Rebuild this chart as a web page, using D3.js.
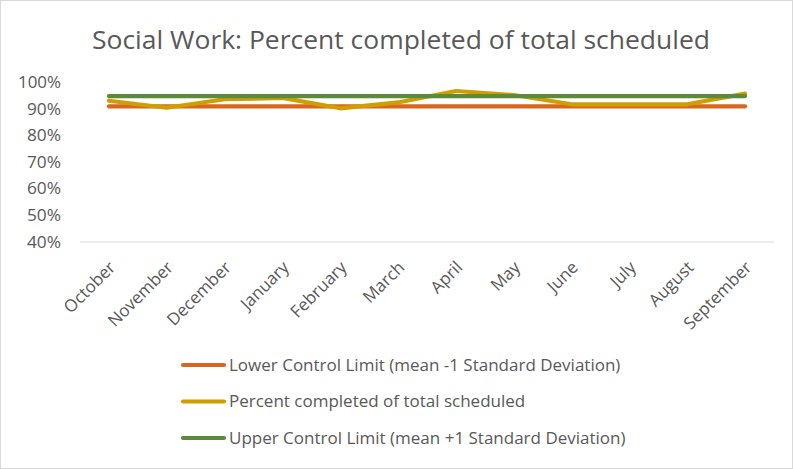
<!DOCTYPE html>
<html><head><meta charset="utf-8">
<script src="https://cdn.jsdelivr.net/npm/d3@7"></script>
<style>body{margin:0;background:#fff}svg{display:block}</style>
</head><body>
<svg id="c" width="793" height="469"></svg>
<script>
const months = ["October","November","December","January","February","March","April","May","June","July","August","September"];
const lowerLimit = [91.05,91.05,91.05,91.05,91.05,91.05,91.05,91.05,91.05,91.05,91.05,91.05];
const percentCompleted = [93.15,90.5,93.7,94.2,90.3,92.5,96.8,95.3,91.8,91.8,91.8,95.8];
const upperLimit = [94.9,94.9,94.9,94.9,94.9,94.9,94.9,94.9,94.9,94.9,94.9,94.9];
const yTicks = [40,50,60,70,80,90,100];
const seriesNames = ["Lower Control Limit (mean -1 Standard Deviation)","Percent completed of total scheduled","Upper Control Limit (mean +1 Standard Deviation)"];
const colors = ["#D8661C","#CF9E00","#5B8A3A"];

const svg = d3.select("#c");
const font = "'Open Sans', sans-serif";
svg.append("rect").attr("x",0.5).attr("y",0.5).attr("width",792).attr("height",468)
  .attr("fill","#fff").attr("stroke","#d9d9d9");

const x = d3.scaleBand().domain(months).range([80,774]);
const y = d3.scaleLinear().domain([40,100]).range([242,82.5]);

svg.append("text").attr("x",401).attr("y",49).attr("text-anchor","middle")
  .attr("font-family",font).attr("font-size",25).attr("fill","#595959")
  .attr("textLength",618).attr("lengthAdjust","spacingAndGlyphs")
  .text("Social Work: Percent completed of total scheduled");

const yAxis = svg.append("g").attr("transform","translate(61,0)")
  .call(d3.axisLeft(y).tickValues(yTicks).tickFormat(d=>d+"%").tickSize(0).tickPadding(0));
yAxis.select(".domain").remove();
yAxis.selectAll("text").attr("font-family",font).attr("font-size",16).attr("fill","#595959")
  .attr("textLength",43).attr("lengthAdjust","spacingAndGlyphs")
  .filter(d=>d<100).attr("textLength",34);

svg.append("line").attr("x1",80).attr("x2",774).attr("y1",y(40)).attr("y2",y(40))
  .attr("stroke","#d9d9d9").attr("stroke-width",1.2);

const xAxis = svg.append("g").attr("transform",`translate(0,${y(40)})`)
  .call(d3.axisBottom(x).tickSize(0).tickPadding(0));
xAxis.select(".domain").remove();
xAxis.selectAll("text").attr("font-family",font).attr("font-size",17).attr("fill","#595959")
  .attr("text-anchor","end").attr("dy",0)
  .attr("transform","translate(7.5,26.5) rotate(-45)");

const line = d3.line().x((d,i)=>x(months[i])+x.bandwidth()/2).y(d=>y(d));
[lowerLimit, percentCompleted, upperLimit].forEach((s,i)=>{
  svg.append("path").datum(s).attr("d",line).attr("fill","none")
    .attr("stroke",colors[i]).attr("stroke-width",4.2).attr("stroke-linecap","round").attr("stroke-linejoin","round");
});

const leg = svg.append("g");
const legY = [365,401.5,438];
seriesNames.forEach((n,i)=>{
  leg.append("line").attr("x1",183).attr("x2",224).attr("y1",legY[i]).attr("y2",legY[i])
    .attr("stroke",colors[i]).attr("stroke-width",4.2).attr("stroke-linecap","round");
  leg.append("text").attr("x",229).attr("y",legY[i]).attr("dy","0.35em")
    .attr("font-family",font).attr("font-size",17).attr("fill","#595959").text(n);
});
</script>
</body></html>
